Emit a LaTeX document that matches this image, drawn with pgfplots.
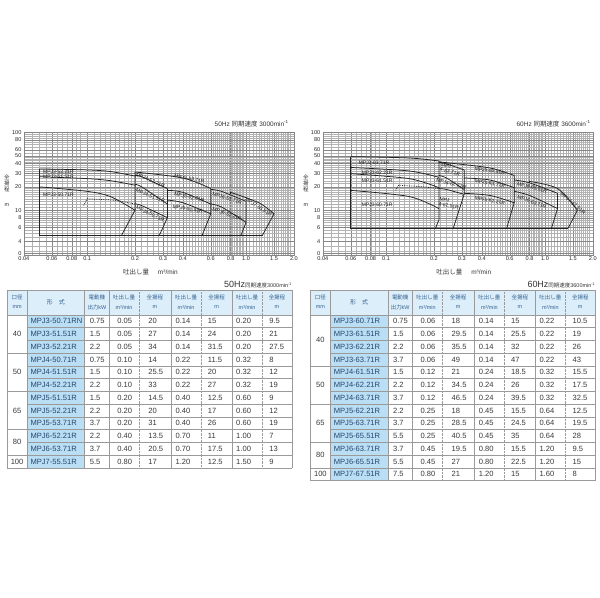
\documentclass[border=0pt]{standalone}
\usepackage{fontspec}
\setmainfont{Liberation Sans}
\newfontfamily\jp{Noto Sans CJK JP}
\usepackage{pgfplots}
\pgfplotsset{compat=1.18}

\definecolor{hdrblue}{HTML}{DCEEFA}
\definecolor{modblue}{HTML}{BADFF5}
\definecolor{rule}{HTML}{9A9A9A}
\definecolor{hdrtext}{HTML}{35628F}
\definecolor{celltext}{HTML}{383838}
\definecolor{modtext}{HTML}{24466E}
\definecolor{curve}{HTML}{222222}

\newcommand\fs[1]{\fontsize{#1}{#1}\selectfont}

\tikzset{
  cv/.style={draw=curve, line width=0.75pt, mark=none},
  lbl/.style={font=\fs{5}, inner sep=0.4pt, text=black!90},
  hd/.style={font=\fs{5.5}, text=hdrtext, inner sep=0pt},
  cell/.style={font=\fs{7.6}, text=celltext, anchor=west, inner sep=0pt},
}

\pgfplotsset{
  gridlook/.style={
    xtick={0.04,0.06,0.08,0.1,0.2,0.3,0.4,0.6,0.8,1,1.5,2},
    xticklabels={0.04,0.06,0.08,0.1,0.2,0.3,0.4,0.6,0.8,1.0,1.5,2.0},
    ytick={2.8,4,6,8,10,20,30,40,50,60,80,100},
    yticklabels={0,4,6,8,10,20,30,40,50,60,80,100},
    minor xtick={0.045,0.05,...,0.095,0.11,0.12,...,0.19,0.22,0.24,...,0.98,1.05,1.1,...,1.95},
    minor ytick={3,3.5,...,9.5,11,12,...,19,22,24,...,48,55,60,...,95},
    grid=both,
    major grid style={gray!95, line width=0.4pt},
    minor grid style={gray!60, line width=0.25pt},
    axis line style={gray!95, line width=0.45pt},
    tick style={draw=none},
    ticklabel style={font=\fs{5.6}, text=black!85},
    xticklabel style={yshift=1.5pt},
    yticklabel style={xshift=1pt},
    clip mode=individual,
  }
}

% table: #1 left edge, #2 rows, #3 groups, #4 rows data, #5 Hz, #6 speed
\newcommand\pumptable[6]{%
  \begin{scope}[shift={(#1,0)}]
    \pgfmathsetmacro\yb{316+12.8*#2}
    \fill[hdrblue] (0,291.5) rectangle (285.5,316);
    \fill[modblue] (19.7,316) rectangle (77.7,\yb);
    \foreach \k in {1,...,#2} {\draw[rule, line width=0.4pt] (19.7,{316+12.8*\k}) -- (285.5,{316+12.8*\k});}
    \foreach \a/\b/\g in {#3} {
      \draw[rule, line width=0.4pt] (0,{316+12.8*\b}) -- (19.7,{316+12.8*\b});
      \node[font=\fs{7.6}, text=celltext] at (9.85,{316+12.8*(\a+\b)/2}) {\g};
    }
    \foreach \x in {0,19.7,77.7,102.2,164.2,225.5,285.5}
      {\draw[rule, line width=0.4pt] (\x,291.5) -- (\x,\yb);}
    \foreach \x in {132.2,194.7,255.9}
      {\draw[rule, line width=0.4pt, densely dotted] (\x,291.5) -- (\x,\yb);}
    \draw[rule, line width=0.4pt] (0,291.5) -- (285.5,291.5) (0,316) -- (285.5,316);
    \node[hd] at (9.85,299) {\jp 口径};
    \node[hd] at (9.85,308.3) {mm};
    \node[hd, font=\fs{6}] at (48.7,303.5) {\jp 形\quad 式};
    \node[hd] at (90,299) {\jp 電動機};
    \node[hd] at (90,308.3) {{\jp 出力}kW};
    \foreach \cq/\ch in {117.2/148.2,179.5/210.1,240.7/270.7} {
      \node[hd] at (\cq,299) {\jp 吐出し量};
      \node[hd] at (\cq,308.3) {m³/min};
      \node[hd] at (\ch,299) {\jp 全揚程};
      \node[hd] at (\ch,308.3) {m};
    }
    \foreach \m/\kw/\qa/\ha/\qb/\hb/\qc/\hc [count=\i from 0] in {#4} {
      \pgfmathsetmacro\yy{322.4+12.8*\i}
      \node[cell, text=modtext] at (23.2,\yy) {\m};
      \node[cell] at (82.7,\yy) {\kw};
      \node[cell] at (110.2,\yy) {\qa};
      \node[cell] at (141.5,\yy) {\ha};
      \node[cell] at (168.8,\yy) {\qb};
      \node[cell] at (201.2,\yy) {\hb};
      \node[cell] at (229.6,\yy) {\qc};
      \node[cell] at (262.8,\yy) {\hc};
    }
    \node[anchor=base east, inner sep=0pt, text=black!80] at (286,288.5)
      {\fs{9}#5\fs{5.5}{\jp 同期速度}#6min\textsuperscript{-1}};
  \end{scope}}

\begin{document}
\begin{tikzpicture}
\path (0,0) rectangle (600pt,600pt);

% ---------- 50 Hz chart ----------
\begin{axis}[xmode=log, ymode=log,
    scale only axis, width=271pt, height=123pt,
    at={(24pt,344pt)}, anchor=south west,
    xmin=0.04, xmax=2, ymin=2.65, ymax=100, gridlook]
  \addplot[cv] coordinates {(0.05,34) (0.05,4.8) (1.27,4.8)};
  % MPJ3
  \addplot[cv, smooth] coordinates {(0.05,34) (0.1,33) (0.14,31.5) (0.2,27.5)};
  \addplot[cv, smooth] coordinates {(0.05,27) (0.1,25.5) (0.14,24) (0.2,21)};
  \addplot[cv, smooth] coordinates {(0.05,20) (0.1,17.5) (0.14,15) (0.2,10)};
  \addplot[cv] coordinates {(0.2,31) (0.2,10) (0.165,4.8)};
  % MPJ4
  \addplot[cv, densely dotted] coordinates {(0.095,11.5) (0.1,14)};
  \addplot[cv, densely dotted, smooth] coordinates {(0.1,14) (0.15,13.4) (0.2,12)};
  \addplot[cv, smooth] coordinates {(0.2,28) (0.22,27) (0.32,19)};
  \addplot[cv, smooth] coordinates {(0.2,21.5) (0.22,20) (0.32,12)};
  \addplot[cv, smooth] coordinates {(0.2,12) (0.22,11.5) (0.32,8)};
  \addplot[cv] coordinates {(0.32,19) (0.32,8) (0.285,4.8)};
  % MPJ5
  \addplot[cv, smooth] coordinates {(0.2,31) (0.4,26) (0.6,19)};
  \addplot[cv, smooth] coordinates {(0.32,18) (0.4,17) (0.6,12)};
  \addplot[cv, smooth] coordinates {(0.32,13.5) (0.4,12.5) (0.6,9)};
  \addplot[cv] coordinates {(0.6,19) (0.6,9) (0.53,4.8)};
  % MPJ6
  \addplot[cv, smooth] coordinates {(0.6,18.5) (0.7,17.5) (1.0,13)};
  \addplot[cv, smooth] coordinates {(0.6,12) (0.7,11) (1.0,7)};
  \addplot[cv] coordinates {(1.0,13) (1.0,7) (0.93,4.8)};
  % MPJ7
  \addplot[cv] coordinates {(0.8,16.2) (0.8,17)};
  \addplot[cv, smooth] coordinates {(0.8,17) (1.2,12.5) (1.5,9)};
  \addplot[cv] coordinates {(1.5,9) (1.27,4.8)};

  \node[lbl] at (axis cs:0.066,31.6) {MPJ3-52.21R};
  \node[lbl] at (axis cs:0.066,26.7) {MPJ3-51.51R};
  \node[lbl] at (axis cs:0.066,15.6) {MPJ3-50.71R};
  \node[lbl, rotate=-22] at (axis cs:0.25,24.3) {MPJ4-52.21R};
  \node[lbl, rotate=-22] at (axis cs:0.25,15.3) {MPJ4-51.51R};
  \node[lbl, rotate=-25] at (axis cs:0.25,9.0) {MPJ4-50.71R};
  \node[lbl, rotate=-10] at (axis cs:0.44,25.3) {MPJ5-53.71R};
  \node[lbl, rotate=-12] at (axis cs:0.44,14.8) {MPJ5-52.21R};
  \node[lbl, rotate=-10] at (axis cs:0.43,10.3) {MPJ5-51.51R};
  \node[lbl, rotate=-18] at (axis cs:0.76,14.3) {MPJ6-53.71R};
  \node[lbl, rotate=-20] at (axis cs:0.76,8.9) {MPJ6-52.21R};
  \node[lbl, rotate=-32] at (axis cs:1.2,10.9) {MPJ7-55.51R};
\end{axis}

% ---------- 60 Hz chart ----------
\begin{axis}[xmode=log, ymode=log,
    scale only axis, width=271pt, height=123pt,
    at={(324pt,344pt)}, anchor=south west,
    xmin=0.04, xmax=2, ymin=2.65, ymax=100, gridlook]
  \addplot[cv] coordinates {(0.06,49) (0.06,5.9) (1.4,5.9)};
  % MPJ3
  \addplot[cv, smooth] coordinates {(0.06,49) (0.14,47) (0.215,43)};
  \addplot[cv, smooth] coordinates {(0.06,35.5) (0.14,32) (0.215,26.5)};
  \addplot[cv, smooth] coordinates {(0.06,29.5) (0.14,25.5) (0.215,19.5)};
  \addplot[cv, smooth] coordinates {(0.06,18) (0.14,15) (0.215,10.5)};
  \addplot[cv] coordinates {(0.215,43) (0.215,7.5) (0.205,5.9)};
  % MPJ4
  \addplot[cv, densely dotted] coordinates {(0.115,18) (0.12,21)};
  \addplot[cv, densely dotted, smooth] coordinates {(0.12,21) (0.17,20) (0.215,19)};
  \addplot[cv, smooth] coordinates {(0.215,41.5) (0.24,39.5) (0.31,33)};
  \addplot[cv, smooth] coordinates {(0.215,28) (0.24,26) (0.31,18.5)};
  \addplot[cv, smooth] coordinates {(0.215,19) (0.24,18.5) (0.31,16)};
  \addplot[cv] coordinates {(0.31,33) (0.31,16) (0.265,5.9)};
  % MPJ5
  \addplot[cv, smooth] coordinates {(0.215,42) (0.25,40.5) (0.45,35) (0.64,28)};
  \addplot[cv, smooth] coordinates {(0.31,26) (0.45,24.5) (0.64,19.5)};
  \addplot[cv, smooth] coordinates {(0.31,16.5) (0.45,15.5) (0.64,12.5)};
  \addplot[cv] coordinates {(0.64,28) (0.64,12.5) (0.575,5.9)};
  % MPJ6
  \addplot[cv, smooth] coordinates {(0.64,24.5) (0.8,22.5) (1.2,16.5)};
  \addplot[cv, smooth] coordinates {(0.64,17.5) (0.8,15.5) (1.2,10.5)};
  \addplot[cv] coordinates {(1.2,16.5) (1.2,10.5) (1.1,5.9)};
  % MPJ7
  \addplot[cv] coordinates {(0.8,22.5) (0.8,23.5)};
  \addplot[cv, smooth] coordinates {(0.8,23.5) (1.2,19) (1.6,10)};
  \addplot[cv] coordinates {(1.6,10) (1.4,5.9)};

  \node[lbl] at (axis cs:0.084,41) {MPJ3-63.71R};
  \node[lbl] at (axis cs:0.088,30.4) {MPJ3-62.21R};
  \node[lbl] at (axis cs:0.088,23.8) {MPJ3-61.51R};
  \node[lbl] at (axis cs:0.088,11.9) {MPJ3-60.71R};
  \node[lbl, rotate=-14, align=left] at (axis cs:0.255,33.5) {MPJ\\4-63.71R};
  \node[lbl, rotate=-14] at (axis cs:0.257,22) {MPJ4-62.21R};
  \node[lbl, rotate=-12, align=left] at (axis cs:0.25,12.3) {MPJ\\4-61.51R};
  \node[lbl, rotate=-8] at (axis cs:0.45,32) {MPJ5-65.51R};
  \node[lbl, rotate=-10] at (axis cs:0.45,22.2) {MPJ5-63.71R};
  \node[lbl, rotate=-10] at (axis cs:0.45,13.4) {MPJ5-62.21R};
  \node[lbl, rotate=-15] at (axis cs:0.83,19.6) {MPJ6-65.51R};
  \node[lbl, rotate=-20] at (axis cs:0.83,12.8) {MPJ6-63.71R};
  \node[lbl, rotate=-40] at (axis cs:1.5,12.3) {MPJ7-67.51R};
\end{axis}

\begin{scope}[x=1pt, y=-1pt, yshift=600pt]
  % chart captions
  \node[anchor=east, inner sep=0pt, font=\fs{6.5}, text=black!80] at (290,124)
    {50Hz {\jp 同期速度} 3000min\textsuperscript{-1}};
  \node[anchor=east, inner sep=0pt, font=\fs{6.5}, text=black!80] at (593,124)
    {60Hz {\jp 同期速度} 3600min\textsuperscript{-1}};
  \foreach \dx in {0,300} {
    \node[align=center, inner sep=0pt, font=\jp\fontsize{5.5}{5.9}\selectfont, text=black!80]
      at (7+\dx,184) {全\\揚\\程};
    \node[inner sep=0pt, font=\fs{5.5}, text=black!80] at (7+\dx,206) {m};
  }
  \node[inner sep=0pt, font=\fs{6.5}, text=black!80] at (151,272.7)
    {{\jp 吐出し量}\hspace{9pt}m³/min};
  \node[inner sep=0pt, font=\fs{6.5}, text=black!80] at (465.5,272.7)
    {{\jp 吐出し量}\hspace{9pt}m³/min};

  % tables
  \pumptable{7.3}{12}{0/3/40,3/6/50,6/9/65,9/11/80,11/12/100}{%
    MPJ3-50.71RN/0.75/0.05/20/0.14/15/0.20/9.5,
    MPJ3-51.51R/1.5/0.05/27/0.14/24/0.20/21,
    MPJ3-52.21R/2.2/0.05/34/0.14/31.5/0.20/27.5,
    MPJ4-50.71R/0.75/0.10/14/0.22/11.5/0.32/8,
    MPJ4-51.51R/1.5/0.10/25.5/0.22/20/0.32/12,
    MPJ4-52.21R/2.2/0.10/33/0.22/27/0.32/19,
    MPJ5-51.51R/1.5/0.20/14.5/0.40/12.5/0.60/9,
    MPJ5-52.21R/2.2/0.20/20/0.40/17/0.60/12,
    MPJ5-53.71R/3.7/0.20/31/0.40/26/0.60/19,
    MPJ6-52.21R/2.2/0.40/13.5/0.70/11/1.00/7,
    MPJ6-53.71R/3.7/0.40/20.5/0.70/17.5/1.00/13,
    MPJ7-55.51R/5.5/0.80/17/1.20/12.5/1.50/9}{50Hz}{3000}
  \pumptable{311.7}{13}{0/4/40,4/7/50,7/10/65,10/12/80,12/13/100}{%
    MPJ3-60.71R/0.75/0.06/18/0.14/15/0.22/10.5,
    MPJ3-61.51R/1.5/0.06/29.5/0.14/25.5/0.22/19,
    MPJ3-62.21R/2.2/0.06/35.5/0.14/32/0.22/26,
    MPJ3-63.71R/3.7/0.06/49/0.14/47/0.22/43,
    MPJ4-61.51R/1.5/0.12/21/0.24/18.5/0.32/15.5,
    MPJ4-62.21R/2.2/0.12/34.5/0.24/26/0.32/17.5,
    MPJ4-63.71R/3.7/0.12/46.5/0.24/39.5/0.32/32.5,
    MPJ5-62.21R/2.2/0.25/18/0.45/15.5/0.64/12.5,
    MPJ5-63.71R/3.7/0.25/28.5/0.45/24.5/0.64/19.5,
    MPJ5-65.51R/5.5/0.25/40.5/0.45/35/0.64/28,
    MPJ6-63.71R/3.7/0.45/19.5/0.80/15.5/1.20/9.5,
    MPJ6-65.51R/5.5/0.45/27/0.80/22.5/1.20/15,
    MPJ7-67.51R/7.5/0.80/21/1.20/15/1.60/8}{60Hz}{3600}
\end{scope}
\end{tikzpicture}
\end{document}
